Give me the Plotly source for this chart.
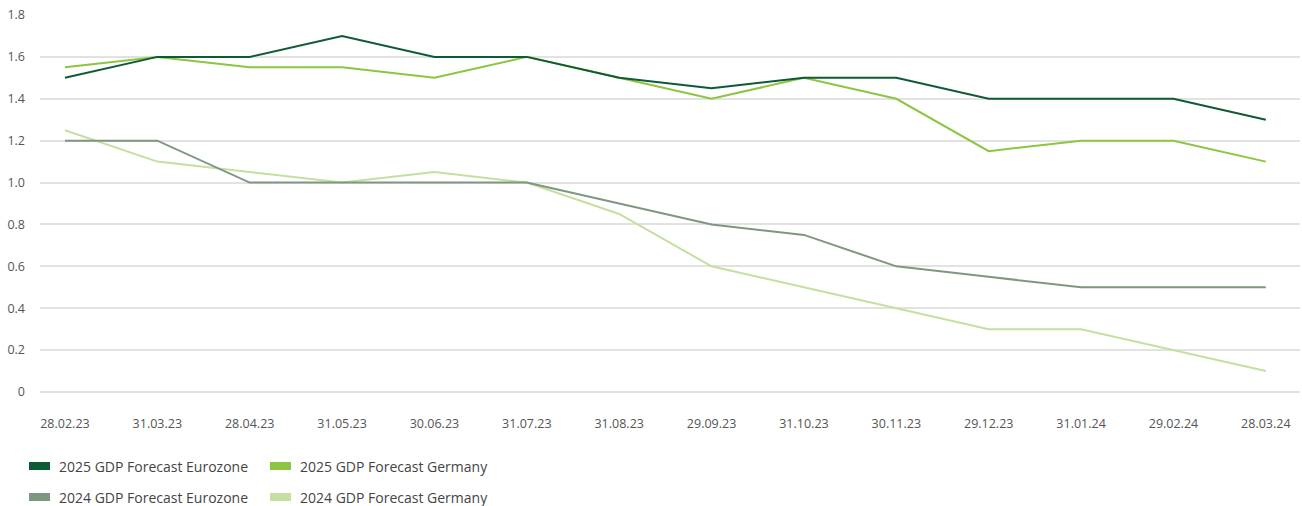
import plotly.graph_objects as go

# Forecast dates (category axis) and GDP forecasts in %
dates = ["28.02.23", "31.03.23", "28.04.23", "31.05.23", "30.06.23", "31.07.23",
         "31.08.23", "29.09.23", "31.10.23", "30.11.23", "29.12.23", "31.01.24",
         "29.02.24", "28.03.24"]

gdp2025_eurozone = [1.5, 1.6, 1.6, 1.7, 1.6, 1.6, 1.5, 1.45, 1.5, 1.5, 1.4, 1.4, 1.4, 1.3]
gdp2025_germany = [1.55, 1.6, 1.55, 1.55, 1.5, 1.6, 1.5, 1.4, 1.5, 1.4, 1.15, 1.2, 1.2, 1.1]
gdp2024_eurozone = [1.2, 1.2, 1.0, 1.0, 1.0, 1.0, 0.9, 0.8, 0.75, 0.6, 0.55, 0.5, 0.5, 0.5]
gdp2024_germany = [1.25, 1.1, 1.05, 1.0, 1.05, 1.0, 0.85, 0.6, 0.5, 0.4, 0.3, 0.3, 0.2, 0.1]

y_ticks = [0, 0.2, 0.4, 0.6, 0.8, 1.0, 1.2, 1.4, 1.6, 1.8]
y_ticktext = ["0", "0.2", "0.4", "0.6", "0.8", "1.0", "1.2", "1.4", "1.6", "1.8"]

series = [
    ("2025 GDP Forecast Eurozone", gdp2025_eurozone, "#0f5a36"),
    ("2025 GDP Forecast Germany", gdp2025_germany, "#8cc542"),
    ("2024 GDP Forecast Eurozone", gdp2024_eurozone, "#7e9781"),
    ("2024 GDP Forecast Germany", gdp2024_germany, "#c4e0a0"),
]

FONT = "Open Sans"
W, H = 1302, 506
ML, MR, MT, MB = 40, 2, 15, 114
PW, PH = W - ML - MR, H - MT - MB

x_idx = list(range(len(dates)))

fig = go.Figure()
# draw lighter series first so darker lines stay on top
for name, vals, color in reversed(series):
    fig.add_trace(go.Scatter(x=x_idx, y=vals, mode="lines", name=name,
                             line=dict(color=color, width=2), showlegend=False))


def px_x(p):
    return (p - ML) / PW


def px_y(p):
    return (H - MB - p) / PH


# legend built from swatches and labels below the plot
shapes = []
annotations = []
legend_pos = [(29, 466), (270, 466), (29, 497), (270, 497)]
for (name, _, color), (lx, ly) in zip(series, legend_pos):
    shapes.append(dict(type="rect", xref="paper", yref="paper",
                       x0=px_x(lx), x1=px_x(lx + 21), y0=px_y(ly - 4), y1=px_y(ly + 4),
                       fillcolor=color, line=dict(width=0)))
    annotations.append(dict(xref="paper", yref="paper", x=px_x(lx + 28), y=px_y(ly),
                            text=name, showarrow=False, xanchor="left", yanchor="middle",
                            font=dict(family=FONT, size=14, color="#444444")))

fig.update_layout(
    width=W, height=H,
    margin=dict(l=ML, r=MR, t=MT, b=MB),
    paper_bgcolor="white", plot_bgcolor="white",
    font=dict(family=FONT, size=12, color="#555555"),
    shapes=shapes, annotations=annotations,
    showlegend=False,
    xaxis=dict(range=[-0.27, 13.37], tickmode="array", tickvals=x_idx, ticktext=dates,
               showgrid=False, zeroline=False, showline=False, ticks="",
               ticklabelstandoff=22, tickfont=dict(size=12.5, color="#555555")),
    yaxis=dict(range=[0, 1.8], tickmode="array", tickvals=y_ticks, ticktext=y_ticktext,
               showgrid=True, gridcolor="#e2e2e2", gridwidth=1.5,
               zeroline=True, zerolinecolor="#e2e2e2", zerolinewidth=1.5,
               showline=False, ticks="", ticklabelstandoff=14,
               tickfont=dict(size=12.5, color="#555555")),
)

fig.write_html("out.html")
